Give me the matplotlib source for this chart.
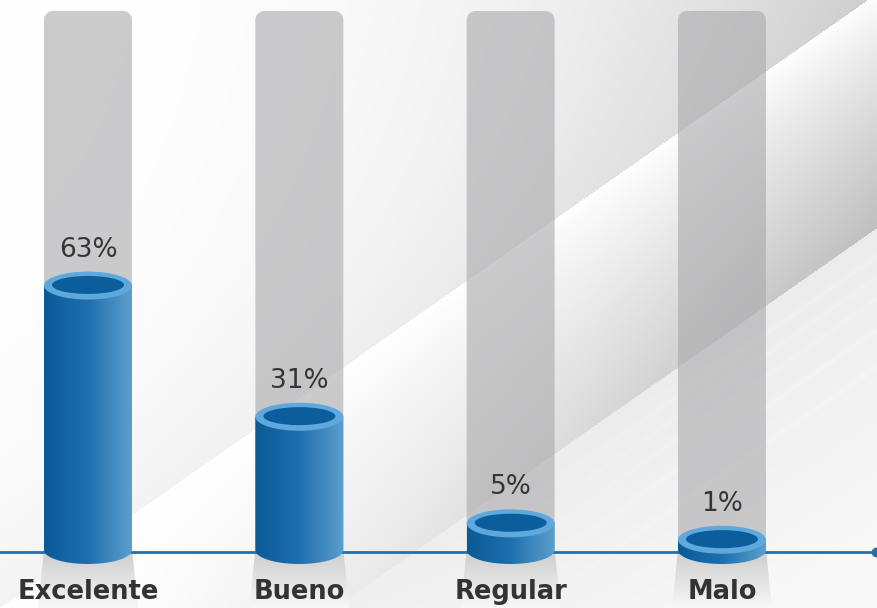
import numpy as np
import matplotlib
matplotlib.use('Agg')
import matplotlib.pyplot as plt
from matplotlib.path import Path
from matplotlib.patches import PathPatch, Ellipse
from matplotlib.colors import LinearSegmentedColormap

categories = ['Excelente', 'Bueno', 'Regular', 'Malo']
values = [63, 31, 5, 1]
labels = ['63%', '31%', '5%', '1%']

W, H = 877, 608
fig = plt.figure(figsize=(W / 100, H / 100), dpi=100)
ax = fig.add_axes([0, 0, 1, 1])

# pixel scale: x unit = 211.33 px, y unit (percent) = 4.1 px, baseline at px 550
sx, sy = 211.33, 4.1
x0px, base_px = 88, 550
xlim = (-x0px / sx, (W - x0px) / sx)
ylim = (-(H - base_px) / sy, base_px / sy)

# background: light, darker towards upper right, with two diagonal glare edges
yy, xx = np.mgrid[0:H, 0:W].astype(float)
d1 = (xx * 607 + yy * 867 - 607 * 867) / np.hypot(607, 867)
band = 192
Dx = 0.15 * (xx / W) ** 2.2
Ex = 0.25 * (xx / W) ** 1.3
upper = 1 - Dx - 0.045 * np.exp(np.minimum(d1, 0) / 120)
middle = 1 - Ex * (np.clip(d1, 0, band) / band) ** 0.8
lower = 0.925 + 0.05 * np.clip((d1 - band) / 250, 0, 1) + 0.04 * (1 - xx / W) ** 2
bg = np.where(d1 < 0, upper, np.where(d1 < band, middle, lower))
for off in (215, 232, 250, 275, 305):
    bg = bg + 0.012 * np.exp(-((d1 - off) / 2.5) ** 2) * np.clip((xx - 500) / 200, 0, 1)
bg = np.clip(bg, 0, 1)
ax.imshow(np.dstack([bg, bg, np.clip(bg * 1.004, 0, 1)]), extent=[xlim[0], xlim[1], ylim[0], ylim[1]],
          aspect='auto', zorder=0, interpolation='bilinear')

hw = 44 / sx          # half width of bar
eh = 14 / sy          # half height of ellipse
col_top = (base_px - 11) / sy
rx, ry = 9 / sx, 9 / sy

blue_cmap = LinearSegmentedColormap.from_list('b', ['#0a5a98', '#1f6fae', '#5b9fcc'])
grad = np.linspace(0, 1, 200).reshape(1, -1)

for i, (cat, v, lab) in enumerate(zip(categories, values, labels)):
    # gray column with rounded top
    t = np.linspace(0, np.pi / 2, 10)
    verts = [(i - hw, 0)]
    verts += [(i - hw + rx - rx * np.cos(a), col_top - ry + ry * np.sin(a)) for a in t]
    verts += [(i + hw - rx + rx * np.sin(a), col_top - ry + ry * np.cos(a)) for a in t]
    verts += [(i + hw, 0), (i - hw, 0)]
    ax.add_patch(PathPatch(Path(verts), facecolor='#a9a9ab', edgecolor='none', alpha=0.6, zorder=1))

    # reflection below baseline
    ref = [(i - hw, 0), (i + hw, 0), (i + hw + 6 / sx, ylim[0]), (i - hw - 6 / sx, ylim[0])]
    rp = PathPatch(Path(ref + [ref[0]]), facecolor='none', edgecolor='none')
    ax.add_patch(rp)
    vg = np.linspace(0, 1, 100).reshape(-1, 1)
    im = ax.imshow(np.dstack([0.80 + 0.17 * vg] * 3), extent=[i - hw - 0.05, i + hw + 0.05, ylim[0], 0],
                   aspect='auto', zorder=1, interpolation='bilinear')
    im.set_clip_path(rp)

    # cylinder body
    top = v + 1.5
    tt = np.linspace(np.pi, 2 * np.pi, 40)
    body = [(i - hw, top), (i - hw, 0)]
    body += [(i + hw * np.cos(a), eh * np.sin(a)) for a in tt]
    body += [(i + hw, top), (i - hw, top)]
    bp = PathPatch(Path(body), facecolor='none', edgecolor='none')
    ax.add_patch(bp)
    im = ax.imshow(grad, cmap=blue_cmap, extent=[i - hw, i + hw, -eh, top],
                   aspect='auto', zorder=3, interpolation='bilinear')
    im.set_clip_path(bp)

    # top ellipse
    ax.add_patch(Ellipse((i, top), 2 * hw, 2 * eh, facecolor='#5ea8de', edgecolor='none', zorder=4))
    ax.add_patch(Ellipse((i, top + 0.15), 2 * 36 / sx, 2 * 9 / sy, facecolor='#0b5d9b',
                         edgecolor='none', zorder=5))

    ax.text(i, top + 36 / sy, lab, ha='center', va='center', fontsize=19,
            color='#353535', zorder=6)
    ax.text(i, -42 / sy, cat, ha='center', va='center', fontsize=18.5, fontweight='bold',
            color='#333333', zorder=6)

# baseline axis line
ax.plot([xlim[0], 3.73], [-0.5, -0.5], color='#2a6ea8', lw=2, zorder=2)
ax.plot([3.73], [-0.5], 'o', color='#2a6ea8', ms=6, zorder=2)

ax.set_xlim(xlim)
ax.set_ylim(ylim)
ax.axis('off')
fig.savefig('out.png', dpi=100)
